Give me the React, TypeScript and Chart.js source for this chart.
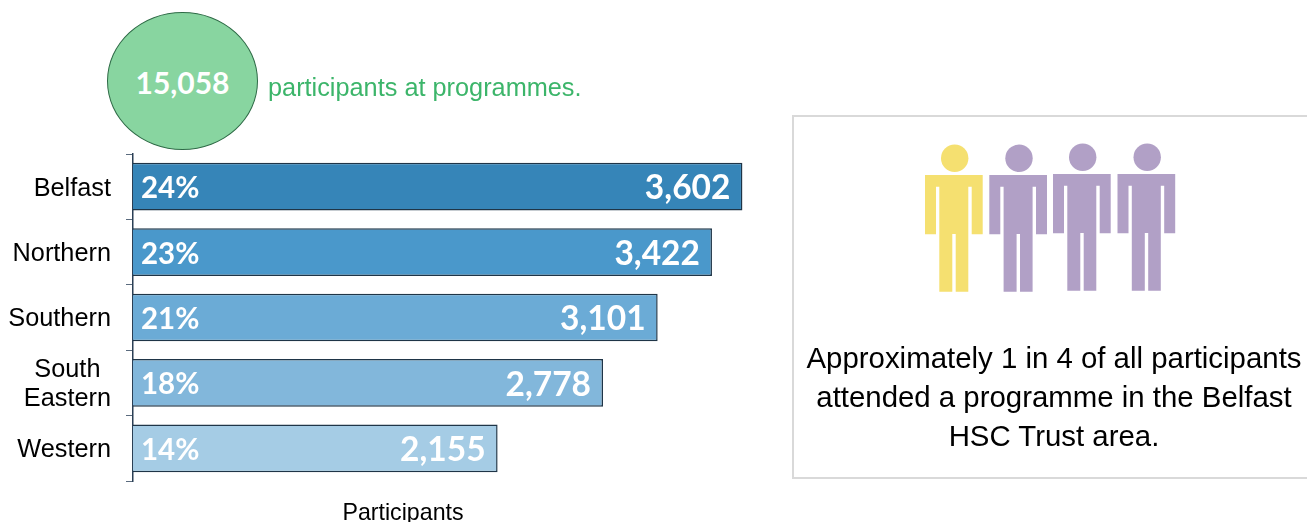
import React, { useEffect, useRef } from "react";
import { Chart, registerables } from "chart.js";

Chart.register(...registerables);

const categories = ["Belfast", "Northern", "Southern", "South Eastern", "Western"];
const tickLabels: (string | string[])[] = ["Belfast", "Northern", "Southern", ["South\u2004\u200a", "Eastern"], "Western"];
const participants = [3602, 3422, 3101, 2778, 2155];
const shares = ["24%", "23%", "21%", "18%", "14%"];
const barColors = ["#3685B8", "#4A98CB", "#6BABD6", "#82B7DB", "#A5CCE5"];
const total = "15,058";
const axisTitle = "Participants";
const headline = "participants at programmes.";
const boxLines = [
  "Approximately 1 in 4 of all participants",
  "attended a programme in the Belfast",
  "HSC Trust area.",
];
const people = [
  { dx: 0, dy: 0, color: "#F5E070" },
  { dx: 64.3, dy: 0, color: "#B1A0C6" },
  { dx: 128, dy: -1, color: "#B1A0C6" },
  { dx: 192.5, dy: -1, color: "#B1A0C6" },
];

const barLabels = {
  id: "barLabels",
  afterDatasetsDraw(chart: any) {
    const { ctx } = chart;
    const meta = chart.getDatasetMeta(0);
    ctx.save();
    ctx.fillStyle = "#FFFFFF";
    ctx.textBaseline = "middle";
    meta.data.forEach((bar: any, i: number) => {
      ctx.font = "bold 29.5px Lato";
      ctx.textAlign = "left";
      ctx.fillText(shares[i], bar.base + 8, bar.y + 2);
      ctx.font = "bold 33.5px Lato";
      ctx.textAlign = "right";
      ctx.fillText(participants[i].toLocaleString("en-GB"), bar.x - 12, bar.y + 2);
    });
    ctx.font = "23.2px 'Liberation Sans'";
    ctx.fillStyle = "#000000";
    ctx.textAlign = "center";
    ctx.fillText(axisTitle, 403, 513.5);
    ctx.restore();
  },
};

function Person({ dx, dy, color }: { dx: number; dy: number; color: string }) {
  return (
    <g transform={`translate(${dx} ${dy})`} fill={color}>
      <circle cx={954.7} cy={158.3} r={13.7} />
      <path d="M925 175H982.7V234.3H971.7V186.7H968.3V291.7H955.7V234H952.3V291.7H939.3V186.7H936V234.3H925Z" />
    </g>
  );
}

export default function App() {
  const ref = useRef<HTMLCanvasElement>(null);
  useEffect(() => {
    document.body.style.margin = "0";
    const chart = new Chart(ref.current!, {
      type: "bar",
      data: {
        labels: categories,
        datasets: [
          {
            data: participants,
            backgroundColor: barColors,
            borderColor: "#1F3547",
            borderWidth: 1.5,
            barPercentage: 0.73,
            categoryPercentage: 1,
          },
        ],
      },
      options: {
        indexAxis: "y",
        responsive: false,
        animation: false,
        layout: { padding: { top: 154, bottom: 41, left: 0, right: 0 } },
        plugins: { legend: { display: false }, tooltip: { enabled: false } },
        scales: {
          x: { display: false, min: 0, max: 3895 },
          y: {
            afterFit(scale: any) {
              scale.width = 133;
            },
            border: { display: true, color: "#2A3F55", width: 1.5 },
            grid: { drawOnChartArea: false, drawTicks: true, tickLength: 7, color: "#5A6B7E" },
            ticks: {
              padding: 15,
              labelOffset: 2,
              color: "#000000",
              font: { family: "'Liberation Sans'", size: 25.3, lineHeight: 1.15 },
              autoSkip: false,
              callback: (_v: any, i: number) => tickLabels[i],
            },
          },
        },
      },
      plugins: [barLabels],
    } as any);
    return () => chart.destroy();
  }, []);

  return (
    <div style={{ position: "relative", width: 1307, height: 522, overflow: "hidden", background: "#fff" }}>
      <canvas ref={ref} width={792} height={522} style={{ position: "absolute", left: 0, top: 0 }} />
      <div
        style={{
          position: "absolute", left: 107, top: 12, width: 151, height: 138, boxSizing: "border-box",
          borderRadius: "50%", background: "#88D5A0", border: "1px solid #2F6B47", color: "#fff",
          font: "bold 30px Lato", display: "flex", alignItems: "center", justifyContent: "center", paddingTop: 2,
        }}
      >
        {total}
      </div>
      <div style={{ position: "absolute", left: 268, top: 73, color: "#3CB56A", font: "25.3px 'Liberation Sans'", whiteSpace: "nowrap" }}>
        {headline}
      </div>
      <div
        style={{
          position: "absolute", left: 792, top: 115, width: 530, height: 364, boxSizing: "border-box",
          border: "2px solid #D9D9D9",
        }}
      />
      <svg width={1307} height={522} style={{ position: "absolute", left: 0, top: 0 }}>
        {people.map((p, i) => (
          <Person key={i} {...p} />
        ))}
      </svg>
      <div
        style={{
          position: "absolute", left: 793, top: 338, width: 522, textAlign: "center", color: "#000",
          font: "29.4px/39px 'Liberation Sans'",
        }}
      >
        {boxLines.map((l) => (
          <div key={l} style={{ whiteSpace: "nowrap" }}>{l}</div>
        ))}
      </div>
    </div>
  );
}
